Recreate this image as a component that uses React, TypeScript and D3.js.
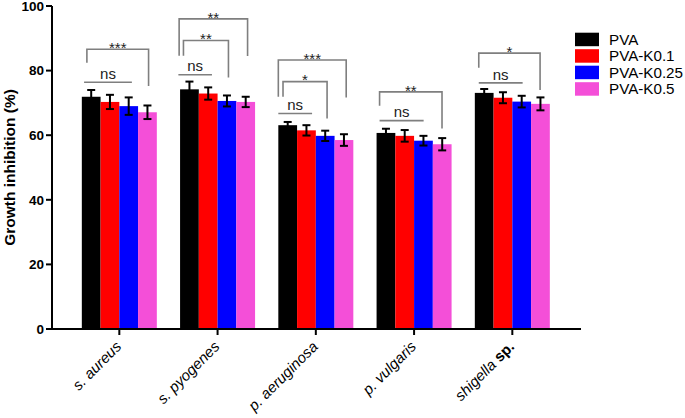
import React from "react";
import * as d3 from "d3";

const categories = ["s. aureus", "s. pyogenes", "p. aeruginosa", "p. vulgaris", "shigella sp."];
const seriesNames = ["PVA", "PVA-K0.1", "PVA-K0.25", "PVA-K0.5"];
const seriesColors = ["#000000", "#ff0000", "#0000ff", "#f44fd8"];

const pvaValues = [71.9, 74.2, 63.1, 60.7, 73.1];
const k01Values = [70.3, 72.9, 61.5, 59.8, 71.6];
const k025Values = [69.0, 70.6, 59.8, 58.3, 70.4];
const k05Values = [67.1, 70.3, 58.5, 57.2, 69.7];

const pvaErrors = [2.1, 2.4, 1.0, 1.3, 1.2];
const k01Errors = [2.2, 1.9, 1.6, 1.8, 1.7];
const k025Errors = [2.7, 1.7, 1.6, 1.5, 1.8];
const k05Errors = [2.1, 1.6, 1.8, 1.9, 2.0];

const yTicks = [0, 20, 40, 60, 80, 100];

// "ns" lines: category index, start/end in bar-width units from group start, level
const nsCats = [0, 1, 2, 3, 4];
const nsFrom = [0.12, -0.09, 0.0, 0.16, 0.21];
const nsTo = [2.67, 1.7, 1.8, 2.51, 2.55];
const nsLevel = [76.4, 78.7, 66.7, 64.5, 76.2];

// significance brackets
const brCats = [0, 1, 1, 2, 2, 3, 4];
const brLabels = ["***", "**", "**", "*", "***", "**", "*"];
const brFrom = [0.27, 0.18, -0.05, 0.25, 0.0, 0.16, 0.21];
const brTo = [3.56, 2.58, 3.6, 2.6, 3.62, 3.49, 3.48];
const brTop = [86.6, 89.3, 96.0, 76.6, 83.3, 73.4, 85.4];
const brLeftEnd = [82.4, 84.6, 84.6, 71.9, 71.9, 69.1, 80.9];
const brRightEnd = [75.2, 77.9, 84.5, 65.2, 71.7, 62.1, 74.0];

const W = 685;
const H = 418;
const FONT = "Arial, 'Liberation Sans', Helvetica, sans-serif";

export default function App() {
  const values = [pvaValues, k01Values, k025Values, k05Values];
  const errors = [pvaErrors, k01Errors, k025Errors, k05Errors];

  const axisX = 52;
  const axisRight = 581;
  const y = d3.scaleLinear().domain([0, 100]).range([329, 6]);
  const p = 1 - 75 / 98.25;
  const x = d3
    .scaleBand<string>()
    .domain(categories)
    .range([70.2, 70.2 + 5 * 98.25])
    .paddingInner(p)
    .paddingOuter(p / 2);
  const inner = d3.scaleBand<string>().domain(seriesNames).range([0, x.bandwidth()]);
  const bw = inner.bandwidth();

  const gray = "#7f7f7f";
  const xLabelSize = 15;

  return (
    <svg
      width={W}
      height={H}
      style={{ position: "absolute", left: 0, top: 0, background: "#fff" }}
      fontFamily={FONT}
    >
      {/* bars */}
      {seriesNames.map((s, si) =>
        categories.map((c, ci) => (
          <rect
            key={`b-${si}-${ci}`}
            x={(x(c) as number) + (inner(s) as number)}
            y={y(values[si][ci])}
            width={bw}
            height={y(0) - y(values[si][ci])}
            fill={seriesColors[si]}
          />
        ))
      )}
      {/* error bars */}
      {seriesNames.map((s, si) =>
        categories.map((c, ci) => {
          const cx = (x(c) as number) + (inner(s) as number) + bw / 2;
          const v = values[si][ci];
          const e = errors[si][ci];
          const y1 = y(v + e);
          const y2 = y(v - e);
          return (
            <g key={`e-${si}-${ci}`} stroke="#000" strokeWidth={2}>
              <line x1={cx} x2={cx} y1={y1} y2={y2} />
              <line x1={cx - 4} x2={cx + 4} y1={y1} y2={y1} />
              <line x1={cx - 4} x2={cx + 4} y1={y2} y2={y2} />
            </g>
          );
        })
      )}
      {/* ns lines */}
      {nsCats.map((ci, i) => {
        const gx = x(categories[ci]) as number;
        const x1 = gx + nsFrom[i] * bw;
        const x2 = gx + nsTo[i] * bw;
        const ly = y(nsLevel[i]);
        return (
          <g key={`ns-${i}`}>
            <line x1={x1} x2={x2} y1={ly} y2={ly} stroke={gray} strokeWidth={1.6} />
            <text x={(x1 + x2) / 2} y={ly - 3.3} textAnchor="middle" fontSize={15} fill="#222">
              ns
            </text>
          </g>
        );
      })}
      {/* brackets */}
      {brCats.map((ci, i) => {
        const gx = x(categories[ci]) as number;
        const x1 = gx + brFrom[i] * bw;
        const x2 = gx + brTo[i] * bw;
        const ty = y(brTop[i]);
        return (
          <g key={`br-${i}`}>
            <path
              d={`M${x1},${y(brLeftEnd[i])}V${ty}H${x2}V${y(brRightEnd[i])}`}
              fill="none"
              stroke={gray}
              strokeWidth={1.6}
            />
            <text x={(x1 + x2) / 2} y={ty + 3.6} textAnchor="middle" fontSize={15} fill="#222">
              {brLabels[i]}
            </text>
          </g>
        );
      })}
      {/* y axis */}
      <line x1={axisX} x2={axisX} y1={y(100)} y2={y(0) + 1} stroke="#000" strokeWidth={2} />
      {yTicks.map((t) => (
        <g key={`yt-${t}`}>
          <line x1={axisX - 6} x2={axisX} y1={y(t)} y2={y(t)} stroke="#000" strokeWidth={2} />
          <text
            x={axisX - 8}
            y={y(t)}
            dy="0.36em"
            textAnchor="end"
            fontSize={13.5}
            fontWeight="bold"
            fill="#000"
          >
            {t}
          </text>
        </g>
      ))}
      <g transform="translate(14.5,167.5) rotate(-90)">
        <text textAnchor="middle" fontSize={15.5} fontWeight="bold" fill="#000">
          Growth inhibition (%)
        </text>
      </g>
      {/* x axis */}
      <line x1={axisX - 1} x2={axisRight} y1={y(0)} y2={y(0)} stroke="#000" strokeWidth={2} />
      {categories.map((c) => {
        const cx = (x(c) as number) + x.bandwidth() / 2;
        const isShig = c.startsWith("shigella");
        const boldW = 1.445 * xLabelSize;
        const spaceW = 0.278 * xLabelSize;
        return (
          <g key={`xt-${c}`}>
            <line x1={cx} x2={cx} y1={y(0)} y2={y(0) + 6} stroke="#000" strokeWidth={2} />
            <g transform={`translate(${cx + 3},${y(0) + 18.5}) rotate(-45)`}>
              {isShig ? (
                <>
                  <text x={-(boldW + spaceW)} y={0} textAnchor="end" fontSize={xLabelSize} fontStyle="italic" fill="#000">
                    {c.split(" ")[0]}
                  </text>
                  <text x={0} y={0} textAnchor="end" fontSize={xLabelSize} fontWeight="bold" fill="#000">
                    {c.split(" ")[1]}
                  </text>
                </>
              ) : (
                <text x={0} y={0} textAnchor="end" fontSize={xLabelSize} fontStyle="italic" fill="#000">
                  {c}
                </text>
              )}
            </g>
          </g>
        );
      })}
      {/* legend */}
      {seriesNames.map((s, i) => (
        <g key={`lg-${s}`} transform={`translate(575,${32.7 + i * 16.5})`}>
          <rect x={0} y={0} width={24} height={13.5} fill={seriesColors[i]} />
          <text x={34} y={6.75} dy="0.36em" fontSize={15.2} fill="#000">
            {s}
          </text>
        </g>
      ))}
    </svg>
  );
}
